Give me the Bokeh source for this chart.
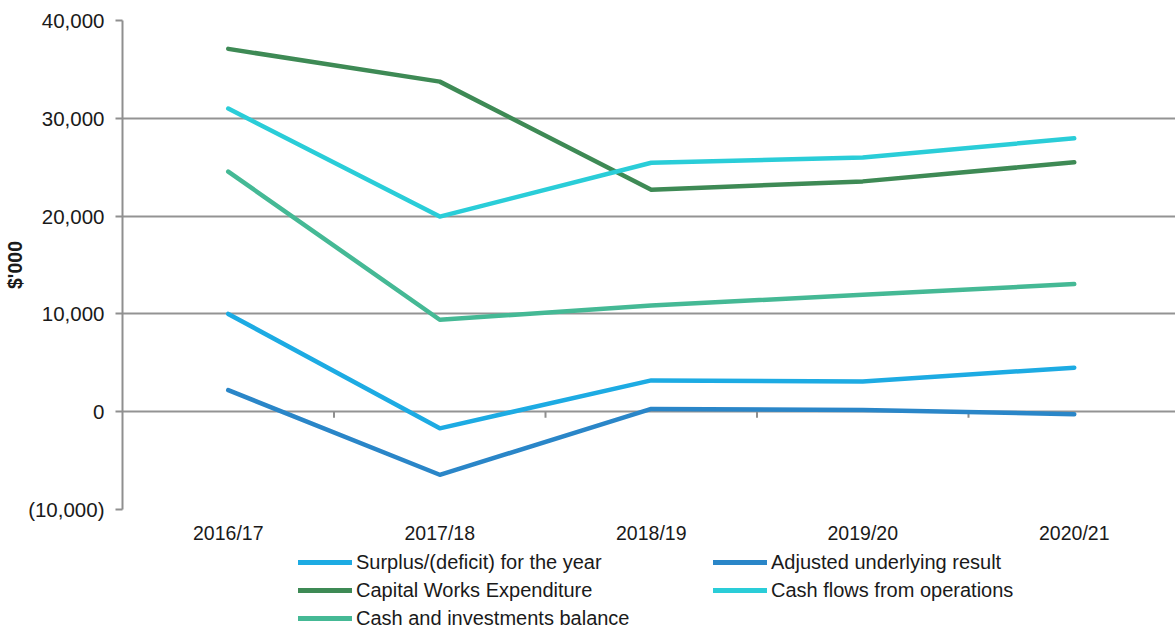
from bokeh.plotting import figure
from bokeh.layouts import column
from bokeh.models import (Range1d, FixedTicker, NumeralTickFormatter, Legend, LegendItem, Title)
from bokeh.embed import file_html
from bokeh.resources import INLINE

years = ["2016/17", "2017/18", "2018/19", "2019/20", "2020/21"]
surplus = [10000, -1700, 3200, 3100, 4500]
adjusted = [2200, -6450, 280, 170, -250]
capital_works = [37100, 33750, 22700, 23550, 25500]
cash_flows = [31000, 19950, 25450, 26000, 27950]
cash_investments = [24550, 9400, 10850, 11950, 13050]

series_names = ["Surplus/(deficit) for the year", "Adjusted underlying result",
                "Capital Works Expenditure", "Cash flows from operations",
                "Cash and investments balance"]
series_values = [surplus, adjusted, capital_works, cash_flows, cash_investments]
series_colors = ["#1DABE3", "#2A86C8", "#3E8A55", "#2ACDD8", "#45B995"]
# legend reads row by row: two items per row
legend_order = [0, 2, 4, 1, 3]

y_ticks = [-10000, 0, 10000, 20000, 30000, 40000]

FONT = "Liberation Sans"
FS = "19.5px"

W = 1175
H_CHART, H_LEG = 548, 84
left, top, bottom = 122, 20, 39
frame_w = W - left
frame_h = H_CHART - top - bottom
cat_px = 211.5
x = list(range(len(years)))

p = figure(width=W, height=H_CHART, output_backend="svg", toolbar_location=None,
           x_range=Range1d(-0.5, -0.5 + frame_w / cat_px),
           y_range=Range1d(y_ticks[0], y_ticks[-1]),
           min_border_left=left, min_border_right=0, min_border_top=top,
           min_border_bottom=bottom, outline_line_color=None,
           background_fill_color="white", border_fill_color="white")

# grid
p.xgrid.visible = False
p.ygrid.ticker = FixedTicker(ticks=y_ticks)
p.ygrid.grid_line_color = "#939393"
p.ygrid.grid_line_width = 1.8

# y axis
p.yaxis.ticker = FixedTicker(ticks=y_ticks)
p.yaxis.formatter = NumeralTickFormatter(format="(0,0)")
p.yaxis.axis_line_color = "#8f8f8f"
p.yaxis.axis_line_width = 2
p.yaxis.major_tick_line_color = "#8f8f8f"
p.yaxis.major_tick_line_width = 2
p.yaxis.major_tick_out = 7
p.yaxis.major_tick_in = 0
p.yaxis.minor_tick_line_color = None
p.yaxis.major_label_standoff = 11
p.yaxis.major_label_text_font = FONT
p.yaxis.major_label_text_font_size = "20.5px"
p.yaxis.major_label_text_color = "#1a1a1a"

p.add_layout(Title(text="$'000", align="center", offset=-13, standoff=0,
                   text_font=FONT, text_font_size=FS, text_font_style="bold",
                   text_color="#1a1a1a"), "left")

# x axis (labels only, at bottom)
p.xaxis.ticker = FixedTicker(ticks=x)
p.xaxis.major_label_overrides = {i: y for i, y in enumerate(years)}
p.xaxis.axis_line_color = None
p.xaxis.major_tick_line_color = None
p.xaxis.minor_tick_line_color = None
p.xaxis.major_label_standoff = 6
p.xaxis.major_label_text_font = FONT
p.xaxis.major_label_text_font_size = FS
p.xaxis.major_label_text_color = "#1a1a1a"

# tick marks on the zero line between categories
tick_len = 6 * (y_ticks[-1] - y_ticks[0]) / frame_h
bounds = [i + 0.5 for i in x[:-1]]
p.segment(x0=bounds, x1=bounds, y0=[0] * len(bounds), y1=[-tick_len] * len(bounds),
          line_color="#8f8f8f", line_width=2)

for name, vals, col in zip(series_names, series_values, series_colors):
    p.line(x, vals, line_color=col, line_width=4.5, line_cap="round", line_join="round")

# legend in its own strip below the chart
lf = figure(width=W, height=H_LEG, output_backend="svg", toolbar_location=None,
            x_range=Range1d(0, 1), y_range=Range1d(0, 1),
            min_border=0, outline_line_color=None,
            background_fill_color="white", border_fill_color="white")
lf.xaxis.visible = False
lf.yaxis.visible = False
lf.xgrid.visible = False
lf.ygrid.visible = False
items = []
for i in legend_order:
    # single-point line: draws nothing in the strip, only its legend swatch
    r = lf.line(x=[0], y=[0], line_color=series_colors[i], line_width=5, line_cap="round")
    items.append(LegendItem(label=series_names[i], renderers=[r]))

legend = Legend(items=items, ncols=2, location=(176, 0),
                glyph_width=54, glyph_height=28, label_height=28, label_width=357,
                label_standoff=4, spacing=0, padding=0, margin=0,
                border_line_color=None, background_fill_alpha=0,
                label_text_font=FONT, label_text_font_size="20px", label_text_color="#1a1a1a")
lf.add_layout(legend, "center")

layout = column(p, lf, spacing=0)
open("out.html", "w").write(file_html(layout, INLINE))
